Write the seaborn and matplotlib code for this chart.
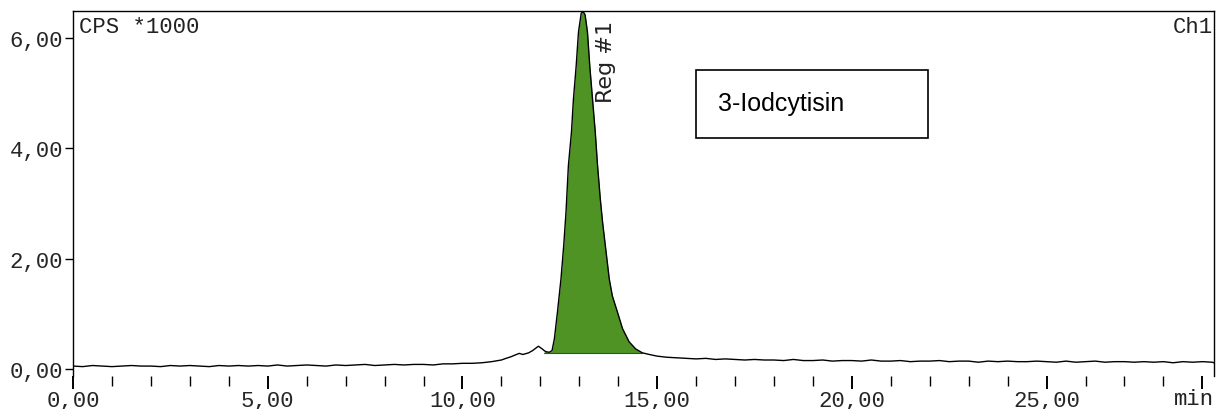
import numpy as np
import pandas as pd
import matplotlib.pyplot as plt
import seaborn as sns
from matplotlib.patches import Rectangle

# retention time (min) and signal (CPS *1000)
base_t = [0.0, 0.25, 0.5, 0.75, 1.0, 1.25, 1.5, 1.75, 2.0, 2.25,
          2.5, 2.75, 3.0, 3.25, 3.5, 3.75, 4.0, 4.25, 4.5, 4.75,
          5.0, 5.25, 5.5, 5.75, 6.0, 6.25, 6.5, 6.75, 7.0, 7.25,
          7.5, 7.75, 8.0, 8.25, 8.5, 8.75, 9.0, 9.25, 9.5, 9.75,
          10.0, 10.25, 10.5, 10.75]
base_y = [0.05, 0.04, 0.06, 0.05, 0.04, 0.05, 0.06, 0.05, 0.05, 0.04,
          0.06, 0.05, 0.06, 0.05, 0.04, 0.06, 0.05, 0.06, 0.05, 0.06,
          0.05, 0.07, 0.05, 0.06, 0.07, 0.06, 0.05, 0.07, 0.06, 0.07,
          0.08, 0.06, 0.07, 0.08, 0.07, 0.08, 0.08, 0.07, 0.09, 0.09,
          0.10, 0.10, 0.11, 0.13]

peak_t = [11.0, 11.12, 11.25, 11.35, 11.46, 11.55, 11.7, 11.8, 11.95, 12.05,
          12.1, 12.15, 12.23, 12.3, 12.36, 12.44, 12.53, 12.6, 12.66, 12.72,
          12.8, 12.85, 12.92, 12.98, 13.05, 13.1, 13.15, 13.21, 13.27, 13.34,
          13.41, 13.47, 13.54, 13.6, 13.67, 13.77, 13.85, 13.98, 14.11, 14.28,
          14.45, 14.62, 14.8]
peak_y = [0.16, 0.19, 0.22, 0.25, 0.28, 0.26, 0.29, 0.33, 0.41, 0.36,
          0.33, 0.31, 0.30, 0.33, 0.54, 1.03, 1.63, 2.23, 2.85, 3.68,
          4.30, 4.89, 5.49, 6.11, 6.45, 6.48, 6.42, 6.11, 5.49, 4.89,
          4.30, 3.68, 3.08, 2.65, 2.23, 1.63, 1.32, 1.03, 0.73, 0.49,
          0.36, 0.29, 0.26]

tail_t = [15.0, 15.25, 15.5, 15.75, 16.0, 16.25, 16.5, 16.75, 17.0, 17.25,
          17.5, 17.75, 18.0, 18.25, 18.5, 18.75, 19.0, 19.25, 19.5, 19.75,
          20.0, 20.25, 20.5, 20.75, 21.0, 21.25, 21.5, 21.75, 22.0, 22.25,
          22.5, 22.75, 23.0, 23.25, 23.5, 23.75, 24.0, 24.25, 24.5, 24.75,
          25.0, 25.25, 25.5, 25.75, 26.0, 26.25, 26.5, 26.75, 27.0, 27.25,
          27.5, 27.75, 28.0, 28.25, 28.5, 28.75, 29.0, 29.25, 29.3]
tail_y = [0.23, 0.21, 0.20, 0.19, 0.18, 0.19, 0.17, 0.18, 0.17, 0.16,
          0.17, 0.16, 0.16, 0.15, 0.17, 0.15, 0.15, 0.16, 0.14, 0.15,
          0.15, 0.14, 0.16, 0.14, 0.14, 0.15, 0.13, 0.14, 0.14, 0.15,
          0.13, 0.14, 0.14, 0.12, 0.14, 0.13, 0.14, 0.13, 0.13, 0.14,
          0.13, 0.12, 0.14, 0.12, 0.13, 0.14, 0.12, 0.13, 0.13, 0.12,
          0.13, 0.12, 0.13, 0.11, 0.13, 0.12, 0.13, 0.12, 0.11]

peak_start, peak_end, peak_base = 12.10, 14.62, 0.29
y_ticks = [0, 2, 4, 6]
y_labels = ["0,00", "2,00", "4,00", "6,00"]
x_ticks = [0, 5, 10, 15, 20, 25, 29]
x_labels = ["0,00", "5,00", "10,00", "15,00", "20,00", "25,00", ""]

df = pd.DataFrame({"t": base_t + peak_t + tail_t,
                   "cps": base_y + peak_y + tail_y})

sns.set_theme(style="ticks")
plt.rcParams["font.family"] = ["Liberation Mono", "DejaVu Sans Mono"]

fig = plt.figure(figsize=(12.21, 4.10), dpi=100)
ax = fig.add_axes([0.0598, 0.0805, 0.9345, 0.8902])

t = df["t"].to_numpy()
s = df["cps"].to_numpy()
mask = (t >= peak_start) & (t <= peak_end)
ax.fill_between(t, s, peak_base, where=mask, color="#4f9325", linewidth=0)
ax.plot([peak_start, peak_end], [peak_base, peak_base], color="#2d5a15", lw=0.8)

sns.lineplot(data=df, x="t", y="cps", ax=ax, color="black", linewidth=1.0)

ax.set_xlim(0, 29.3)
ax.set_ylim(-0.13, 6.49)
ax.set_xticks(x_ticks)
ax.set_xticklabels(x_labels, fontsize=16)
ax.set_xticks(np.arange(0, 30, 1), minor=True)
ax.set_yticks(y_ticks)
ax.set_yticklabels(y_labels, fontsize=16)
ax.tick_params(axis="x", which="major", length=9, width=1.4, color="black", pad=1)
ax.tick_params(axis="x", which="minor", length=7, width=1.0, color="black")
ax.tick_params(axis="y", length=6, width=1.0, color="black", pad=1)
ax.set_xlabel("")
ax.set_ylabel("")

# unit label sits at the right end of the time axis
ax.annotate("min", xy=(1.0, 0), xycoords="axes fraction", xytext=(0, -20),
            textcoords="offset points", ha="right", va="baseline", fontsize=16,
            color="#222222")

ax.spines["bottom"].set_visible(False)
for side in ["left", "top", "right"]:
    ax.spines[side].set_color("black")
    ax.spines[side].set_linewidth(1.0)

ax.text(0.005, 0.985, "CPS *1000", transform=ax.transAxes, ha="left", va="top",
        fontsize=16, color="#222222")
ax.text(0.999, 0.985, "Ch1", transform=ax.transAxes, ha="right", va="top",
        fontsize=16, color="#222222")
ax.text(13.68, 6.33, "Reg #1", rotation=90, ha="center", va="top", fontsize=16,
        family="DejaVu Sans", color="#222222")

ax.add_patch(Rectangle((16.0, 4.18), 5.95, 1.24, fill=False, edgecolor="black",
                       linewidth=1.2))
ax.text(16.55, 4.82, "3-Iodcytisin", ha="left", va="center", fontsize=18,
        family="Liberation Sans", color="black")

fig.savefig("out.png", dpi=100)
